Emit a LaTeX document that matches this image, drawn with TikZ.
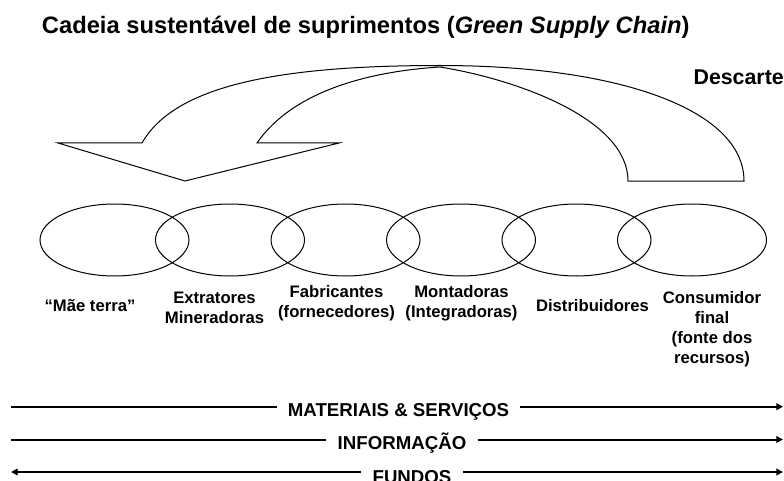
\documentclass[tikz,border=0pt]{standalone}
\usepackage{fontspec}
\setmainfont{Liberation Sans}
\usetikzlibrary{arrows.meta,positioning}
\tikzset{
  ring/.style={line width=0.75pt},
  band/.style={line width=0.75pt, line join=miter},
  flow/.style={line width=1.5pt},
  tip/.style={-{Triangle[length=5pt,width=5pt]}},
  lbl/.style={font=\fontsize{12.5}{15}\selectfont\bfseries, align=center, inner sep=0pt},
  flowlbl/.style={font=\fontsize{14}{16}\selectfont\bfseries, inner xsep=8.25pt, inner ysep=0pt, anchor=base},
}
\begin{document}
\begin{tikzpicture}[x=0.75pt, y=-0.75pt]
  \useasboundingbox (0,0) rectangle (784,481);
  % title and return arrow
  \node[anchor=base west, inner sep=0pt, font=\fontsize{17.8}{20}\selectfont\bfseries] (title) at (41.7,34)
    {Cadeia sustentável de suprimentos (\textit{Green Supply Chain})};
  \node[anchor=base east, inner sep=0pt, font=\fontsize{16}{18}\selectfont\bfseries] (descarte) at (784,84.3) {Descarte};
  \draw[band] (58,143) -- (142,143) .. controls (175,85) and (280,65.5) .. (440,65.5)
    .. controls (620,65.5) and (744,110) .. (744,181) -- (628,181)
    .. controls (628,120) and (520,80) .. (440,67)
    .. controls (360,72) and (290,95) .. (257,143) -- (339,143) -- (185,181) -- cycle;
  % chain of links
  \foreach \i in {0,...,5}
    \draw[ring] (114.5+115.5*\i,240) ellipse [x radius=74.5, y radius=36];
  \node[lbl] (maeterra) at (90,306) {``Mãe terra''};
  \node[lbl] (extratores) at (214.5,308) {Extratores\\Mineradoras};
  \node[lbl] (fabricantes) at (336.5,303) {Fabricantes\\(fornecedores)};
  \node[lbl] (montadoras) at (461.5,303) {Montadoras\\(Integradoras)};
  \node[lbl] (distribuidores) at (592.5,306) {Distribuidores};
  \node[lbl] (consumidor) at (712,329) {Consumidor\\final\\(fonte dos\\recursos)};
  % flows
  \coordinate (m1) at (11,406.7);  \coordinate (m2) at (783,406.7);
  \coordinate (i1) at (11,439.5);  \coordinate (i2) at (783,439.5);
  \coordinate (f1) at (11,472);    \coordinate (f2) at (783,472);
  \node[flowlbl] (materiais) at (398.5,416) {MATERIAIS \& SERVIÇOS};
  \node[flowlbl] (informacao) at (402,449) {INFORMAÇÃO};
  \node[flowlbl] (fundos) at (412,483) {FUNDOS};
  \draw[flow] (m1) -- (materiais.west |- m1);
  \draw[flow, tip] (materiais.east |- m2) -- (m2);
  \draw[flow] (i1) -- (informacao.west |- i1);
  \draw[flow, tip] (informacao.east |- i2) -- (i2);
  \draw[flow, tip] (fundos.west |- f1) -- (f1);
  \draw[flow, tip] (fundos.east |- f2) -- (f2);
\end{tikzpicture}
\end{document}
